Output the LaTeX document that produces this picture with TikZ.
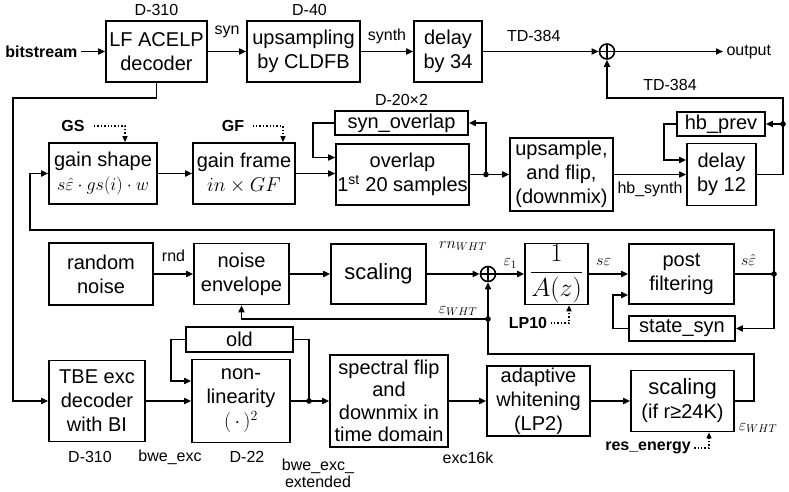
\RequirePackage{fix-cm}
\documentclass[tikz,border=0pt]{standalone}
\usepackage{amsmath}
\usepackage{fontspec}
\setmainfont{Liberation Sans}
\usepackage{tikz}
\usetikzlibrary{positioning, arrows.meta}
\tikzset{Block/.style={%
    shape=rectangle,%
    draw=black,%
    line width=1.6pt,%
    align=center,%
    inner sep=1pt,%
    font=\fontsize{20}{24}\selectfont,%
}}
\tikzset{BoxSize/.style 2 args={%
    minimum width=#1pt,%
    minimum height=#2pt,%
}}
\tikzset{Sum/.style={%
    shape=circle,%
    draw=black,%
    line width=1.6pt,%
    minimum size=15pt,%
    inner sep=0pt,%
    path picture={%
        \draw[line width=1.6pt] (path picture bounding box.north) -- (path picture bounding box.south)
            (path picture bounding box.west) -- (path picture bounding box.east);
    },%
}}
\tikzset{Flow/.style={%
    -{Triangle[length=7pt,width=6pt]},%
    line width=1.6pt,%
}}
\tikzset{Wire/.style={%
    line width=1.6pt,%
}}
\tikzset{Hint/.style={%
    -{Triangle[length=6pt,width=5pt]},%
    dotted,%
    line width=1.4pt,%
}}
\NewDocumentCommand{\sigLabel}{s m}{%
    \IfBooleanTF{#1}{%
        \fontsize{16}{18}\selectfont\textbf{#2}%
    }{%
        \fontsize{16}{18}\selectfont #2%
    }%
}

\begin{document}
\begin{tikzpicture}[x=1pt, y=-1pt]
    \useasboundingbox (0,0) rectangle (789,492);

    % top row
    \node[anchor=east] (bits) at (81,51.5) {\sigLabel*{bitstream}};
    \node[Block, BoxSize={101}{61}] (b10) at (156.5,51.5) {LF ACELP\\decoder};
    \node[Block, BoxSize={113}{61}] (b11) at (303.5,51.5) {upsampling\\by CLDFB};
    \node[Block, BoxSize={68}{61}] (b12) at (448,51.5) {delay\\by 34};
    \node[Sum] (sum1) at (607,51.5) {};
    \node[anchor=west] (out) at (723,51.5) {\sigLabel{output}};
    \node[above=1.5pt of b10] (lb10) {\sigLabel{D-310}};
    \node[above=1.5pt of b11, xshift=6pt] (lb11) {\sigLabel{D-40}};

    % gain path
    \node[Block, BoxSize={108}{61}] (b20) at (103,173.5) {gain shape\\{\fontsize{18}{22}\selectfont$s\hat{\varepsilon}\cdot gs(i)\cdot w$}};
    \node[Block, BoxSize={102}{61}] (b21) at (244,173.5) {gain frame\\$in\times GF$};
    \node[Block, BoxSize={133}{61}] (b22) at (402.5,174.5) {overlap\\1\textsuperscript{st} 20 samples};
    \node[Block, BoxSize={133}{24}] (s22) at (401.5,123) {syn\_overlap};
    \node[above=1pt of s22] (ls22) {\sigLabel{D-20×2}};
    \node[Block, BoxSize={103}{73}] (b23) at (561.5,174.5) {upsample,\\and flip,\\(downmix)};
    \node[Block, BoxSize={69}{62}] (b24) at (721.5,174.5) {delay\\by 12};
    \node[Block, BoxSize={88}{24}] (s24) at (721,124) {hb\_prev};
    \node (gs) at (73,126) {\sigLabel*{GS}};
    \node (gf) at (233,126) {\sigLabel*{GF}};

    % noise path
    \node[Block, BoxSize={104}{62}] (b30) at (101,274) {random\\noise};
    \node[Block, BoxSize={95}{61}] (b31) at (241.5,274) {noise\\envelope};
    \node[Block, BoxSize={95}{60}, font=\fontsize{22}{26}\selectfont] (b32) at (378.5,274) {scaling};
    \node[Sum] (sum3) at (488,274) {};
    \node[Block, BoxSize={63}{61}, font=\fontsize{26}{28}\selectfont] (b33) at (556.5,274) {$\displaystyle\frac{1}{A(z)}$};
    \node[Block, BoxSize={105}{60}] (b34) at (681.5,274) {post\\filtering};
    \node[Block, BoxSize={106}{25}] (s34) at (682,328.5) {state\_syn};
    \node (lp10) at (528,323) {\sigLabel*{LP10}};

    % excitation path
    \node[Block, BoxSize={96}{81}] (b40) at (97,401) {TBE exc\\decoder\\with BI};
    \node[Block, BoxSize={98}{83}] (b41) at (241,401) {non-\\linearity\\$(\,\cdot\,)^2$};
    \node[Block, BoxSize={107}{25}] (s41) at (239.5,339.5) {old};
    \node[Block, BoxSize={118}{92}, font=\fontsize{20}{22.5}\selectfont] (b42) at (389,401) {spectral flip\\and\\downmix in\\time domain};
    \node[Block, BoxSize={103}{70}] (b43) at (538.5,401) {adaptive\\whitening\\(LP2)};
    \node[Block, BoxSize={103}{61}] (b44) at (682.5,401) {{\fontsize{22}{26}\selectfont scaling}\\(if r≥24K)};
    \node (res) at (648,448) {\sigLabel*{res\_energy}};

    % junctions
    \coordinate (d22) at (486,174.5);
    \coordinate (d24) at (783,124);
    \coordinate (fb1) at (783,98);
    \coordinate (d34) at (774,274);
    \coordinate (fb3) at (30,230);
    \coordinate (d31) at (488,319);
    \coordinate (c44) at (488,354);
    \coordinate (d41) at (309,401);

    % signal labels
    \node at (670,85) {\sigLabel{TD-384}};
    \node at (463,246) {\sigLabel{$rn_{WHT}$}};
    \node at (458,311) {\sigLabel{$\varepsilon_{WHT}$}};
    \node at (758,428) {\sigLabel{$\varepsilon_{WHT}$}};
    \node at (90,457) {\sigLabel{D-310}};
    \node at (170,457) {\sigLabel{bwe\_exc}};
    \node at (247,457) {\sigLabel{D-22}};
    \node[align=center, font=\fontsize{16}{17}\selectfont] at (318,473) {bwe\_exc\_\\extended};
    \node at (468,458) {\sigLabel{exc16k}};

    % forward edges
    \path (bits) edge[Flow] (b10);
    \path (b10) edge[Flow] node[above=9.5pt]{\sigLabel{syn}} (b11);
    \path (b11) edge[Flow] node[above=4pt]{\sigLabel{synth}} (b12);
    \path (b12) edge[Flow] node[above=5.5pt, xshift=-7pt]{\sigLabel{TD-384}} (sum1);
    \path (sum1) edge[Flow] (out);
    \path (b20) edge[Flow] (b21);
    \draw[Flow] (b21.east) -- (b21.east -| b22.west);
    \path (b22) edge[Flow] (b23);
    \path (b23) edge[Flow] node[below=3.5pt]{\sigLabel{hb\_synth}} (b24);
    \path (b30) edge[Flow] node[above=8pt]{\sigLabel{rnd}} (b31);
    \path (b31) edge[Flow] (b32);
    \path (b32) edge[Flow] (sum3);
    \path (sum3) edge[Flow] node[above=1.5pt]{\sigLabel{$\varepsilon_1$}} (b33);
    \path (b33) edge[Flow] node[above=4pt, xshift=-5pt]{\sigLabel{$s\varepsilon$}} (b34);
    \path (b40) edge[Flow] (b41);
    \path (b41) edge[Flow] (b42);
    \path (b42) edge[Flow] (b43);
    \path (b43) edge[Flow] (b44);

    % routed connectors
    \draw[Flow] (b10.south) -- ++(0,15) -| ([xshift=-35pt]b40.west) -- (b40.west);
    \draw[Flow] (d22) |- (s22.east);
    \draw[Flow] (s22.west) -- ++(-21,0) |- ([yshift=17pt]b22.west);
    \draw[Flow] (b24.east) -| (fb1) -| (sum1.south);
    \draw[Flow] (d24) -- (s24.east);
    \draw[Flow] (s24.west) -- ++(-12,0) |- ([yshift=14.5pt]b24.west);
    \draw[Flow] (b34.east) -- node[above=4pt, xshift=-6pt]{\sigLabel{$s\hat{\varepsilon}$}} (d34) |- (fb3) |- (b20.west);
    \draw[Flow] (d34) |- (s34.east);
    \draw[Flow] (s34.west) -- ++(-15,0) |- ([yshift=-21pt]b34.west);
    \draw[Flow] (b44.east) -- ++(19,0) |- (c44) -- (sum3.south);
    \draw[Flow] (d31) -| (b31.south);
    \draw[Wire] (d41) |- (s41.east);
    \draw[Flow] (s41.west) -- ++(-14,0) |- ([yshift=20pt]b41.west);

    % control inputs
    \draw[Hint] ([xshift=6pt]gs.east) -| ([xshift=22pt]b20.north);
    \draw[Hint] ([xshift=5pt]gf.east) -| ([xshift=39pt]b21.north);
    \draw[Hint] (lp10.east) -| ([xshift=12.5pt]b33.south);
    \draw[Hint] (res.east) -| ([xshift=26.5pt]b44.south);

    % dots
    \foreach \dd in {d22, d24, d34, d31, d41}
        \fill (\dd) circle (2.8pt);
\end{tikzpicture}
\end{document}
